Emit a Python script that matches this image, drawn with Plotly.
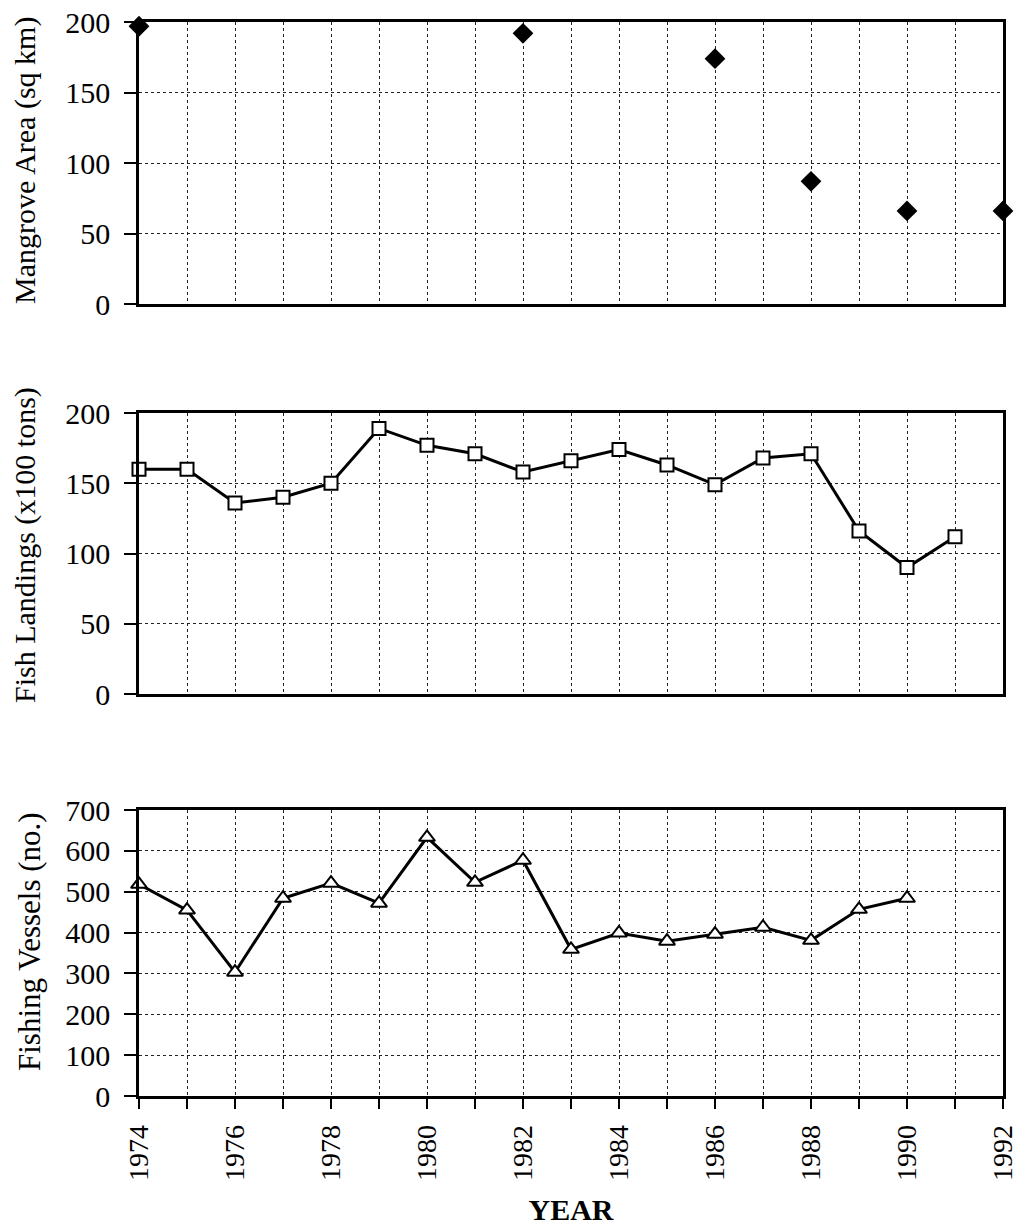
import plotly.graph_objects as go

# ---- data ----
mangrove_years = [1974, 1982, 1986, 1988, 1990, 1992]
mangrove_area = [197, 192, 174, 87, 66, 66]

landing_years = list(range(1974, 1992))
fish_landings = [160, 160, 136, 140, 150, 189, 177, 171, 158, 166, 174, 163, 149, 168, 171, 116, 90, 112]

vessel_years = list(range(1974, 1991))
fishing_vessels = [518, 455, 303, 484, 521, 472, 633, 523, 577, 359, 399, 379, 396, 413, 381, 457, 484]

x_tick_vals = list(range(1974, 1993))
x_tick_text = [str(y) if (y - 1974) % 2 == 0 else "" for y in x_tick_vals]

y_titles = ["Mangrove Area (sq km)", "Fish Landings (x100 tons)", "Fishing Vessels (no.)"]

FONT = "Liberation Serif"
W, H = 1027, 1229

def px_x(x):
    return x / W

def px_y(y):
    return 1 - y / H

fig = go.Figure()

fig.add_trace(go.Scatter(x=mangrove_years, y=mangrove_area, mode="markers",
                         marker=dict(symbol="diamond", size=16, color="black"),
                         xaxis="x", yaxis="y", cliponaxis=False, showlegend=False))
fig.add_trace(go.Scatter(x=landing_years, y=fish_landings, mode="lines",
                         line=dict(color="black", width=3),
                         xaxis="x2", yaxis="y2", cliponaxis=False, showlegend=False))
fig.add_trace(go.Scatter(x=landing_years, y=fish_landings, mode="markers",
                         marker=dict(symbol="square", size=13, color="white",
                                     line=dict(width=2, color="black")),
                         xaxis="x2", yaxis="y2", cliponaxis=False, showlegend=False))
fig.add_trace(go.Scatter(x=vessel_years, y=fishing_vessels, mode="lines",
                         line=dict(color="black", width=3),
                         xaxis="x3", yaxis="y3", cliponaxis=False, showlegend=False))
fig.add_trace(go.Scatter(x=vessel_years, y=fishing_vessels, mode="markers",
                         marker=dict(symbol="triangle-up", size=14, color="white",
                                     line=dict(width=2, color="black")),
                         xaxis="x3", yaxis="y3", cliponaxis=False, showlegend=False))

xdom = [px_x(139), px_x(1003)]
ydoms = [
    [px_y(304), px_y(22)],
    [px_y(694), px_y(413)],
    [px_y(1096), px_y(810)],
]
yranges = [[0, 200], [0, 200], [0, 700]]
ydticks = [50, 50, 100]
title_centers = [(25, 161), (25, 545), (29, 942)]
title_sizes = [30, 30, 31]

ytickfont = dict(family=FONT, size=30, color="black")
xtickfont = dict(family=FONT, size=28, color="black")

layout = dict(
    width=W, height=H,
    margin=dict(l=0, r=0, t=0, b=0),
    paper_bgcolor="white", plot_bgcolor="white",
    font=dict(family=FONT, color="black"),
)

annotations = []
for i in range(3):
    xa = "xaxis" if i == 0 else f"xaxis{i+1}"
    ya = "yaxis" if i == 0 else f"yaxis{i+1}"
    yanchor = "y" if i == 0 else f"y{i+1}"
    xanchor = "x" if i == 0 else f"x{i+1}"
    last = (i == 2)
    layout[xa] = dict(
        domain=xdom, anchor=yanchor, range=[1974, 1992],
        tickmode="array", tickvals=x_tick_vals,
        ticktext=x_tick_text if last else [""] * len(x_tick_vals),
        showticklabels=last, ticks="outside" if last else "", ticklen=10, tickwidth=1.5,
        tickcolor="black", tickangle=-90, tickfont=xtickfont, ticklabelstandoff=5,
        ticklabeloverflow="allow",
        showgrid=True, gridcolor="#222", griddash="dot", gridwidth=1.2,
        showline=True, linecolor="black", linewidth=2.5, mirror=True,
        zeroline=False, automargin=False,
    )
    if last:
        layout[xa]["title"] = dict(text="<b>YEAR</b>",
                                   font=dict(family=FONT, size=30, color="black"),
                                   standoff=20)
    layout[ya] = dict(
        domain=ydoms[i], anchor=xanchor, range=yranges[i],
        dtick=ydticks[i], tick0=0,
        ticks="outside", ticklen=12, tickwidth=1.5, tickcolor="black",
        tickfont=ytickfont, ticklabelstandoff=8, ticklabeloverflow="allow",
        showgrid=True, gridcolor="#222", griddash="dot", gridwidth=1.2,
        showline=True, linecolor="black", linewidth=2.5, mirror=True,
        zeroline=False, automargin=False,
    )
    cx, cy = title_centers[i]
    annotations.append(dict(
        text=y_titles[i], textangle=-90, showarrow=False,
        xref="paper", yref="paper", x=px_x(cx), y=px_y(cy),
        xanchor="center", yanchor="middle",
        font=dict(family=FONT, size=title_sizes[i], color="black"),
    ))

layout["annotations"] = annotations
fig.update_layout(**layout)
fig.write_html(
    "out.html",
    config={"displayModeBar": False},
    post_script="document.body.style.margin='0';document.body.style.overflow='hidden';",
)
